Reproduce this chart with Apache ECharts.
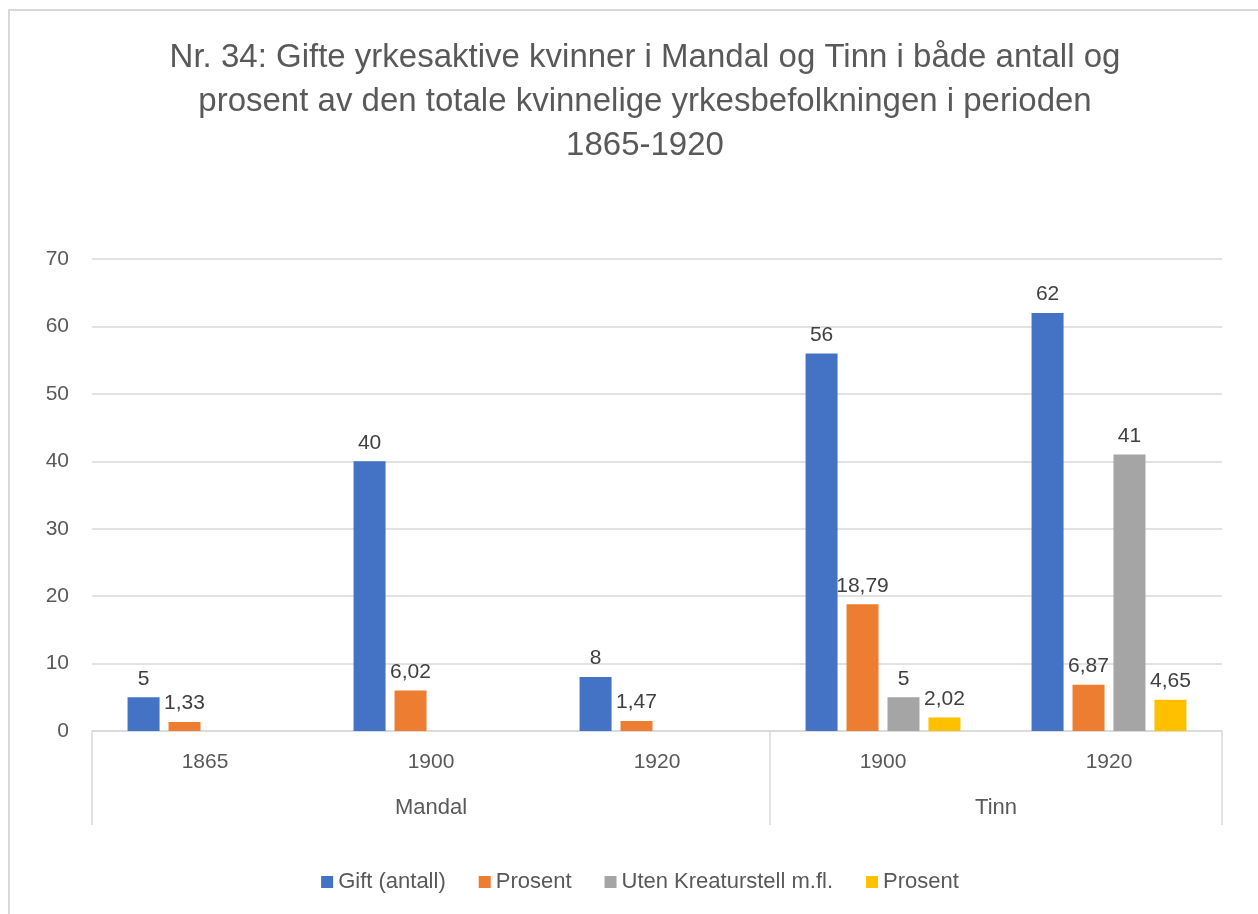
<!DOCTYPE html>
<html>
<head>
<meta charset="utf-8">
<script src="https://cdn.jsdelivr.net/npm/echarts@6/dist/echarts.min.js"></script>
<style>
html,body{margin:0;padding:0;background:#fff;overflow:hidden;width:1258px;height:914px;}
#frame{position:absolute;left:8px;top:9px;width:2000px;height:2000px;border-left:2px solid #d9d9d9;border-top:2px solid #d9d9d9;}
#chart{position:absolute;left:0;top:0;width:1280px;height:914px;}
</style>
</head>
<body>
<div id="frame"></div>
<div id="chart"></div>
<script>
const titleText = 'Nr. 34: Gifte yrkesaktive kvinner i Mandal og Tinn i både antall og\nprosent av den totale kvinnelige yrkesbefolkningen i perioden\n1865-1920';
const years = ['1865', '1900', '1920', '1900', '1920'];
const groupNames = ['Mandal', 'Tinn'];
const groupSizes = [3, 2];
const seriesNames = ['Gift (antall)', 'Prosent', 'Uten Kreaturstell m.fl.', 'Prosent (uten)'];
const legendLabels = ['Gift (antall)', 'Prosent', 'Uten Kreaturstell m.fl.', 'Prosent'];
const giftAntall = [5, 40, 8, 56, 62];
const prosent = [1.33, 6.02, 1.47, 18.79, 6.87];
const utenKreaturstell = [null, null, null, 5, 41];
const prosentUten = [null, null, null, 2.02, 4.65];
const yTicks = [0, 10, 20, 30, 40, 50, 60, 70];
const colors = ['#4472C4', '#ED7D31', '#A5A5A5', '#FFC000'];

const FONT = 'Liberation Sans';
const seriesData = [giftAntall, prosent, utenKreaturstell, prosentUten];

// group boundaries and centers on a 0..N value scale
const bounds = [0];
const centers = [];
groupSizes.forEach((s, i) => { centers.push(bounds[i] + s / 2); bounds.push(bounds[i] + s); });

const chart = echarts.init(document.getElementById('chart'));
chart.setOption({
  animation: false,
  color: colors,
  textStyle: { fontFamily: FONT },
  title: {
    text: titleText,
    left: 640,
    textAlign: 'center',
    top: 31,
    textStyle: { fontFamily: FONT, fontSize: 33, fontWeight: 'normal', color: '#595959', lineHeight: 44 }
  },
  legend: {
    bottom: 16,
    left: 'center',
    itemWidth: 12,
    itemHeight: 12,
    itemGap: 33,
    icon: 'rect',
    data: seriesNames,
    formatter: name => legendLabels[seriesNames.indexOf(name)],
    textStyle: { fontFamily: FONT, fontSize: 22, color: '#595959' }
  },
  grid: { left: 92, right: 58, top: 259, bottom: 183, containLabel: false },
  xAxis: [
    {
      type: 'category',
      data: years,
      position: 'bottom',
      axisLine: { show: true, lineStyle: { color: '#d9d9d9', width: 1.5 } },
      axisTick: { show: false },
      axisLabel: { margin: 21, fontFamily: FONT, fontSize: 21, color: '#595959' }
    },
    {
      type: 'value',
      min: 0,
      max: years.length,
      position: 'bottom',
      axisLine: { show: false },
      splitLine: { show: false },
      axisTick: { show: true, customValues: bounds, length: 94, lineStyle: { color: '#d9d9d9', width: 1.5 } },
      axisLabel: {
        show: true,
        customValues: centers,
        margin: 66,
        fontFamily: FONT, fontSize: 22, color: '#595959',
        formatter: v => groupNames[centers.indexOf(v)]
      }
    }
  ],
  yAxis: {
    type: 'value',
    min: yTicks[0],
    max: yTicks[yTicks.length - 1],
    interval: yTicks[1] - yTicks[0],
    axisLine: { show: false },
    axisTick: { show: false },
    splitLine: { lineStyle: { color: '#d9d9d9', width: 1.5 } },
    axisLabel: { margin: 23, fontFamily: FONT, fontSize: 21, color: '#595959' }
  },
  series: seriesNames.map((n, i) => ({
    name: n,
    type: 'bar',
    xAxisIndex: 0,
    data: seriesData[i],
    barWidth: 32,
    barGap: '28%',
    itemStyle: { color: colors[i] },
    label: {
      show: true,
      position: 'top',
      distance: 8,
      fontFamily: FONT,
      fontSize: 21,
      color: '#404040',
      formatter: p => (p.value == null ? '' : String(p.value).replace('.', ','))
    }
  }))
});
</script>
</body>
</html>
